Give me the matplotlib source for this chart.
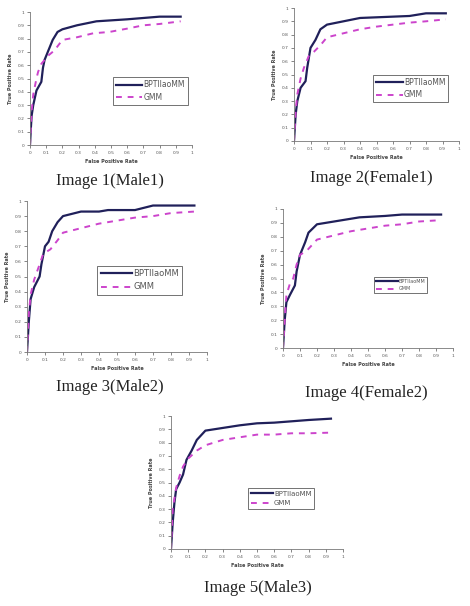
import matplotlib
matplotlib.use('Agg')
from matplotlib import pyplot as plt

# ROC curves (false positive rate, true positive rate)
fpr_bpt1 = [0, 0.005, 0.01, 0.02, 0.04, 0.07, 0.08, 0.09, 0.11, 0.14, 0.17, 0.2, 0.29, 0.41, 0.6, 0.8, 0.93]
tpr_bpt1 = [0, 0.12, 0.22, 0.3, 0.41, 0.475, 0.58, 0.64, 0.7, 0.79, 0.85, 0.87, 0.9, 0.93, 0.945, 0.965, 0.965]
fpr_gmm1 = [0, 0.01, 0.02, 0.04, 0.05, 0.07, 0.11, 0.15, 0.2, 0.29, 0.39, 0.49, 0.6, 0.7, 0.8, 0.93]
tpr_gmm1 = [0, 0.25, 0.38, 0.5, 0.55, 0.61, 0.67, 0.71, 0.79, 0.81, 0.84, 0.85, 0.875, 0.9, 0.91, 0.93]

fpr_bpt2 = [0, 0.005, 0.01, 0.02, 0.04, 0.07, 0.08, 0.1, 0.13, 0.16, 0.2, 0.3, 0.4, 0.5, 0.6, 0.7, 0.8, 0.92]
tpr_bpt2 = [0, 0.1, 0.2, 0.3, 0.4, 0.45, 0.55, 0.7, 0.76, 0.84, 0.875, 0.9, 0.925, 0.93, 0.935, 0.94, 0.96, 0.96]
fpr_gmm2 = [0, 0.01, 0.02, 0.04, 0.06, 0.09, 0.12, 0.16, 0.2, 0.3, 0.4, 0.5, 0.6, 0.7, 0.8, 0.92]
tpr_gmm2 = [0, 0.22, 0.35, 0.47, 0.55, 0.64, 0.67, 0.72, 0.78, 0.81, 0.84, 0.86, 0.875, 0.89, 0.9, 0.915]

fpr_bpt3 = [0, 0.005, 0.01, 0.02, 0.04, 0.07, 0.08, 0.1, 0.12, 0.14, 0.17, 0.2, 0.3, 0.4, 0.45, 0.6, 0.7, 0.93]
tpr_bpt3 = [0, 0.1, 0.2, 0.35, 0.43, 0.5, 0.58, 0.7, 0.73, 0.8, 0.86, 0.9, 0.93, 0.93, 0.94, 0.94, 0.97, 0.97]
fpr_gmm3 = [0, 0.01, 0.02, 0.04, 0.07, 0.09, 0.13, 0.17, 0.2, 0.3, 0.4, 0.5, 0.6, 0.7, 0.8, 0.93]
tpr_gmm3 = [0, 0.25, 0.38, 0.48, 0.58, 0.65, 0.68, 0.74, 0.79, 0.82, 0.85, 0.87, 0.89, 0.9, 0.92, 0.93]

fpr_bpt4 = [0, 0.005, 0.01, 0.02, 0.04, 0.07, 0.08, 0.1, 0.13, 0.15, 0.2, 0.3, 0.35, 0.45, 0.6, 0.7, 0.93]
tpr_bpt4 = [0, 0.1, 0.2, 0.33, 0.38, 0.45, 0.55, 0.67, 0.76, 0.83, 0.89, 0.91, 0.92, 0.94, 0.95, 0.96, 0.96]
fpr_gmm4 = [0, 0.01, 0.02, 0.04, 0.06, 0.08, 0.1, 0.14, 0.2, 0.3, 0.4, 0.5, 0.6, 0.7, 0.8, 0.93]
tpr_gmm4 = [0, 0.2, 0.38, 0.46, 0.5, 0.6, 0.67, 0.7, 0.78, 0.81, 0.84, 0.86, 0.88, 0.89, 0.91, 0.92]

fpr_bpt5 = [0, 0.005, 0.01, 0.02, 0.03, 0.05, 0.07, 0.09, 0.12, 0.15, 0.2, 0.3, 0.4, 0.5, 0.6, 0.7, 0.8, 0.93]
tpr_bpt5 = [0, 0.1, 0.2, 0.35, 0.45, 0.5, 0.56, 0.67, 0.74, 0.82, 0.89, 0.91, 0.93, 0.945, 0.95, 0.96, 0.97, 0.98]
fpr_gmm5 = [0, 0.01, 0.03, 0.05, 0.07, 0.1, 0.15, 0.2, 0.3, 0.4, 0.5, 0.6, 0.7, 0.8, 0.93]
tpr_gmm5 = [0, 0.3, 0.46, 0.55, 0.62, 0.68, 0.74, 0.78, 0.82, 0.84, 0.86, 0.86, 0.87, 0.87, 0.875]

captions = ['Image 1(Male1)', 'Image 2(Female1)', 'Image 3(Male2)',
            'Image 4(Female2)', 'Image 5(Male3)']
ticks = [0, 0.1, 0.2, 0.3, 0.4, 0.5, 0.6, 0.7, 0.8, 0.9, 1]
tick_labels = ['0', '0.1', '0.2', '0.3', '0.4', '0.5', '0.6', '0.7', '0.8', '0.9', '1']

curves = [(fpr_bpt1, tpr_bpt1, fpr_gmm1, tpr_gmm1),
          (fpr_bpt2, tpr_bpt2, fpr_gmm2, tpr_gmm2),
          (fpr_bpt3, tpr_bpt3, fpr_gmm3, tpr_gmm3),
          (fpr_bpt4, tpr_bpt4, fpr_gmm4, tpr_gmm4),
          (fpr_bpt5, tpr_bpt5, fpr_gmm5, tpr_gmm5)]

W, H = 470, 606
# axes boxes in pixels: left, top, right, bottom
boxes = [(30, 12, 192, 145), (294, 8, 459, 141), (27, 201, 207, 352),
         (283, 209, 453, 348), (171, 416, 343, 549)]
# legend upper-left corner in axes coords, legend font size, handle length
legends = [((0.51, 0.51), 5.5, 3.5), ((0.48, 0.50), 5.5, 3.5),
           ((0.39, 0.57), 6, 3.8), ((0.535, 0.51), 3.5, 4.5),
           ((0.45, 0.46), 5, 3.2)]
# caption centre in pixels
cap_pos = [(110, 181), (371, 178), (110, 387), (366, 393), (258, 588)]

navy = '#20205a'
magenta = '#cc44cc'

fig = plt.figure(figsize=(W / 100, H / 100), dpi=100)

for i in range(5):
    l, t, r, b = boxes[i]
    ax = fig.add_axes([l / W, 1 - b / H, (r - l) / W, (b - t) / H])
    x1, y1, x2, y2 = curves[i]
    ax.plot(x1, y1, color=navy, lw=1.6, label='BPTIIaoMM')
    ax.plot(x2, y2, color=magenta, lw=1.4, linestyle=(0, (3, 3)), label='GMM')
    ax.set_xlim(0, 1)
    ax.set_ylim(0, 1)
    ax.set_xticks(ticks)
    ax.set_yticks(ticks)
    ax.set_xticklabels(tick_labels, fontsize=3.2, color='#555555')
    ax.set_yticklabels(tick_labels, fontsize=3.2, color='#555555')
    ax.tick_params(length=2, width=0.5, pad=2, colors='#555555')
    ax.spines['top'].set_visible(False)
    ax.spines['right'].set_visible(False)
    for s in ['left', 'bottom']:
        ax.spines[s].set_linewidth(0.6)
        ax.spines[s].set_color('#777777')
    ax.set_xlabel('False Positive Rate', fontsize=3.5, fontweight='bold',
                  color='#444444', labelpad=3)
    ax.set_ylabel('True Positive Rate', fontsize=3.5, fontweight='bold',
                  color='#444444', labelpad=3)
    anchor, fs, hl = legends[i]
    leg = ax.legend(loc='upper left', bbox_to_anchor=anchor, fontsize=fs,
                    frameon=True, fancybox=False, handlelength=hl,
                    borderpad=0.4, labelspacing=0.5, handletextpad=0.1,
                    borderaxespad=0)
    leg.get_frame().set_edgecolor('#333333')
    leg.get_frame().set_linewidth(0.6)
    for txt in leg.get_texts():
        txt.set_color('#555555')
    cx, cy = cap_pos[i]
    fig.text(cx / W, 1 - cy / H, captions[i], ha='center', va='center',
             fontsize=12, family='Liberation Serif', color='#222222')

fig.savefig('out.png', dpi=100)
